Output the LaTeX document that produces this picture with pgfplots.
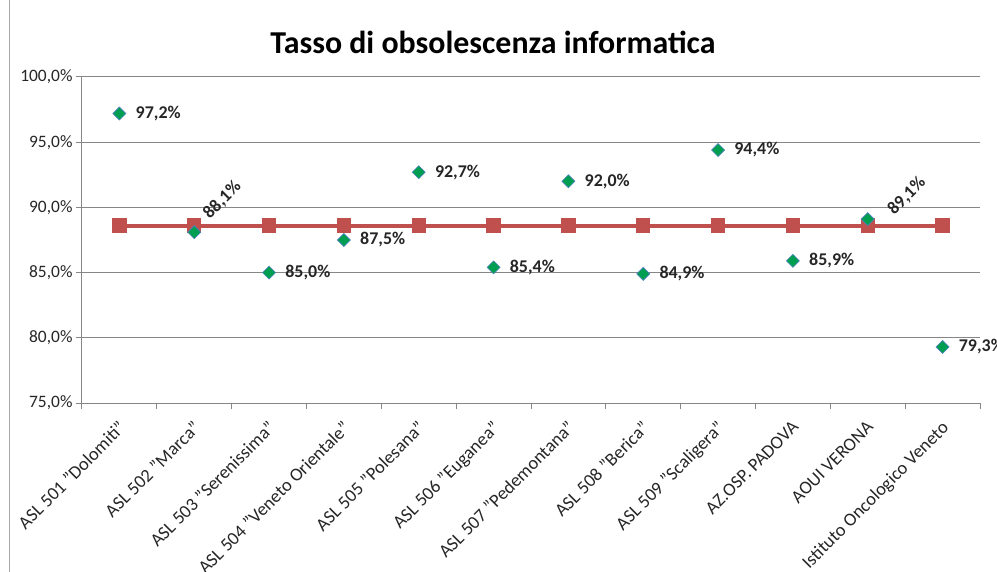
\documentclass[border=0pt]{standalone}
\usepackage{pgfplots}
\pgfplotsset{compat=1.18}
\usepackage{pgfplotstable}
\usepackage{fontspec}
\setmainfont{Carlito}
\definecolor{gridgray}{RGB}{134,134,134}
\definecolor{mgreen}{RGB}{0,158,80}
\definecolor{medge}{RGB}{79,129,189}
\definecolor{lred}{RGB}{192,80,77}

\pgfplotstableread{
x y rot dx dy
0 97.2 0 16 0
1 88.1 45 12 16
2 85.0 0 16 0
3 87.5 0 16 0
4 92.7 0 16 0
5 85.4 0 16 0
6 92.0 0 16 0
7 84.9 0 16 0
8 94.4 0 16 0
9 85.9 0 16 0
10 89.1 45 23 7
11 79.3 0 16 0
}\obsdata

\pgfplotstableread{
x y
0 88.6
1 88.6
2 88.6
3 88.6
4 88.6
5 88.6
6 88.6
7 88.6
8 88.6
9 88.6
10 88.6
11 88.6
}\avgdata

\begin{document}
\begin{tikzpicture}
\begin{axis}[
  at={(0,0)}, anchor=south west,
  width=898bp, height=326bp, scale only axis,
  xmin=-0.5, xmax=11.5, ymin=75, ymax=100,
  axis x line*=bottom, axis y line*=left,
  axis line style={gridgray, line width=1bp},
  tick style={gridgray, line width=1bp},
  tick align=outside,
  major tick length=6bp,
  ytick={75,80,85,90,95,100},
  ymajorgrids, grid style={gridgray, line width=1bp},
  /pgf/number format/assume math mode=true,
  yticklabel={\pgfmathprintnumber[fixed,fixed zerofill,precision=1,use comma]{\tick}\%},
  yticklabel style={font=\fontsize{17.5}{21}\selectfont, text=black!85},
  xtick={-0.5,0.5,...,11.5},
  xticklabels={},
  extra x ticks={0,1,2,3,4,5,6,7,8,9,10,11},
  extra x tick labels={ASL 501 "Dolomiti", ASL 502 "Marca", ASL 503 "Serenissima", ASL 504 "Veneto Orientale", ASL 505 "Polesana", ASL 506 "Euganea", ASL 507 "Pedemontana", ASL 508 "Berica", ASL 509 "Scaligera", AZ.OSP. PADOVA, AOUI VERONA, Istituto Oncologico Veneto},
  extra x tick style={major tick length=0pt, grid=none,
    xticklabel style={yshift=-12bp, xshift=-2bp, rotate=45, anchor=north east, font=\fontsize{18.5}{22}\selectfont, text=black!85}},
  clip=false,
]
\addplot[lred, line width=4bp, mark=square*, mark size=6.7bp, mark options={fill=lred, draw=lred, line width=0pt}]
  table[x=x, y=y] {\avgdata};
\addplot[only marks, mark=square*, mark size=4.6bp,
  mark options={fill=mgreen, draw=medge, line width=0.6bp, rotate=45},
  visualization depends on={\thisrow{rot} \as \rot},
  visualization depends on={\thisrow{dx} \as \dx},
  visualization depends on={\thisrow{dy} \as \dy},
  point meta=y,
  nodes near coords={\pgfmathprintnumber[fixed,fixed zerofill,precision=1,use comma]{\pgfplotspointmeta}\%},
  nodes near coords style={xshift=\dx bp, yshift=\dy bp, rotate=\rot, anchor=west, font=\bfseries\fontsize{18}{21}\selectfont, text=black!85, inner sep=0pt},
] table[x=x, y=y] {\obsdata};
\end{axis}
\node[font=\bfseries\fontsize{32}{38}\selectfont, text=black] at (411bp,361bp) {Tasso di obsolescenza informatica};
\draw[gray!70, line width=1bp] (-72bp,-169bp) -- (-72bp,403bp);
\pgfresetboundingbox
\path[use as bounding box] (-82bp,-169bp) rectangle (915bp,403bp);
\end{tikzpicture}
\end{document}
